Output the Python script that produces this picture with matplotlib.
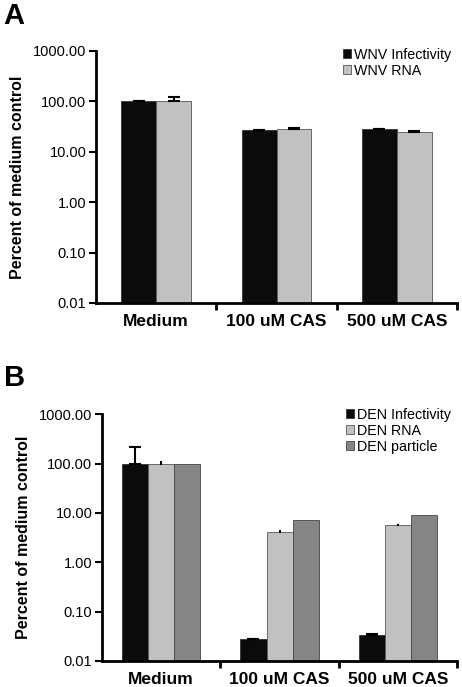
import matplotlib.pyplot as plt
import numpy as np

plt.rcParams['font.family'] = ['Liberation Sans', 'DejaVu Sans']

# Data
categories = ['Medium', '100 uM CAS', '500 uM CAS']
yticks = [0.01, 0.1, 1, 10, 100, 1000]
ytick_labels = ['0.01', '0.10', '1.00', '10.00', '100.00', '1000.00']

# Panel A - West Nile virus
wnv_labels = ['WNV Infectivity', 'WNV RNA']
wnv_infect = [100, 26.7, 28.3]
wnv_infect_err = [1.0, 0.5, 0.5]
wnv_rna = [100, 27.9, 24.4]
wnv_rna_err = [24, 1.5, 1.2]

# Panel B - Dengue virus
den_labels = ['DEN Infectivity', 'DEN RNA', 'DEN particle']
den_infect = [100, 0.0275, 0.0337]
den_infect_err = [113, 0.0006, 0.0008]
den_rna = [100, 4.1, 5.6]
den_rna_err = [5.5, 0.15, 0.2]
den_particle = [100, 7.15, 9.0]

colors = ['#0b0b0b', '#c1c1c1', '#858585']

fig = plt.figure(figsize=(4.62, 6.87), dpi=100)
axA = fig.add_axes([0.208, 0.559, 0.781, 0.367])
axB = fig.add_axes([0.221, 0.038, 0.768, 0.359])


def style_axis(ax):
    ax.set_yscale('log')
    ax.set_ylim(0.01, 1000)
    ax.set_xlim(-0.5, 2.5)
    ax.set_yticks(yticks)
    ax.set_yticklabels(ytick_labels)
    ax.yaxis.set_minor_locator(plt.NullLocator())
    ax.spines['top'].set_visible(False)
    ax.spines['right'].set_visible(False)
    ax.spines['left'].set_linewidth(2)
    ax.spines['bottom'].set_linewidth(2)
    ax.tick_params(axis='y', direction='out', length=5, width=1.5, labelsize=10.5, pad=2)
    ax.set_xticks(np.arange(3))
    ax.set_xticklabels(categories, fontweight='bold', fontsize=12.5)
    ax.tick_params(axis='x', which='major', length=0, pad=8)
    ax.set_xticks([0.5, 1.5, 2.5], minor=True)
    ax.tick_params(axis='x', which='minor', direction='out', length=5, width=2)
    ax.set_ylabel('Percent of medium control', fontweight='bold', fontsize=11.5)


x = np.arange(len(categories))

# Panel A
w = 0.29
axA.bar(x - w / 2, wnv_infect, w, color=colors[0], edgecolor='#333333', linewidth=0.6,
        yerr=[np.zeros(3), wnv_infect_err], capsize=4, error_kw=dict(elinewidth=1.5, capthick=1.5),
        label=wnv_labels[0])
axA.bar(x + w / 2, wnv_rna, w, color=colors[1], edgecolor='#555555', linewidth=0.6,
        yerr=[np.zeros(3), wnv_rna_err], capsize=4, error_kw=dict(elinewidth=1.5, capthick=1.5),
        label=wnv_labels[1])
style_axis(axA)
axA.yaxis.set_label_coords(-0.197, 0.5)
axA.legend(loc='upper right', frameon=False, fontsize=10.3, handlelength=0.6, handleheight=0.6,
           handletextpad=0.2, labelspacing=0.15, borderaxespad=0.0, bbox_to_anchor=(1.0, 1.035))

# Panel B
w = 0.22
axB.bar(x - w, den_infect, w, color=colors[0], edgecolor='#333333', linewidth=0.6,
        yerr=[np.zeros(3), den_infect_err], capsize=4, error_kw=dict(elinewidth=1.5, capthick=1.5),
        label=den_labels[0])
axB.bar(x, den_rna, w, color=colors[1], edgecolor='#555555', linewidth=0.6,
        yerr=[np.zeros(3), den_rna_err], capsize=1, error_kw=dict(elinewidth=1.5, capthick=1.5),
        label=den_labels[1])
axB.bar(x + w, den_particle, w, color=colors[2], edgecolor='#444444', linewidth=0.6,
        label=den_labels[2])
style_axis(axB)
axB.yaxis.set_label_coords(-0.2, 0.5)
axB.legend(loc='upper right', frameon=False, fontsize=10.3, handlelength=0.6, handleheight=0.6,
           handletextpad=0.2, labelspacing=0.15, borderaxespad=0.0, bbox_to_anchor=(1.0, 1.05))

fig.text(0.008, 0.977, 'A', fontsize=21, fontweight='bold', va='center')
fig.text(0.008, 0.45, 'B', fontsize=21, fontweight='bold', va='center')

plt.savefig('out.png', dpi=100)
